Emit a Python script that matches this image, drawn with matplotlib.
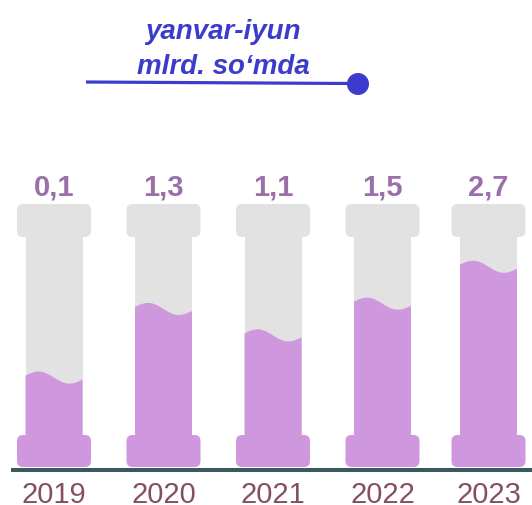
import numpy as np
import matplotlib
matplotlib.use("Agg")
import matplotlib.pyplot as plt
from matplotlib.patches import FancyBboxPatch, Rectangle, Polygon, Circle

# ---- data ----
years = ["2019", "2020", "2021", "2022", "2023"]
values = [0.1, 1.3, 1.1, 1.5, 2.7]
value_labels = ["0,1", "1,3", "1,1", "1,5", "2,7"]
fill_fraction = [0.35, 0.61, 0.51, 0.63, 0.77]   # liquid level in each tube
title_lines = ["yanvar-iyun", "mlrd. so\u2018mda"]

# ---- style ----
GREY = "#e2e2e2"
PURPLE = "#cf98de"
VAL_C = "#9a70a8"
YEAR_C = "#84505f"
BASE_C = "#3a5a5f"
BLUE = "#3c3ccc"
FONT = ["Liberation Sans", "DejaVu Sans"]

W, H = 532, 505
fig = plt.figure(figsize=(W / 100, H / 100), dpi=100)
ax = fig.add_axes([0, 0, 1, 1])
ax.set_xlim(0, W)
ax.set_ylim(H, 0)
ax.axis("off")

centers = [54, 163.5, 273, 382.5, 488.5]
cap_w, cap_top, cap_bot = 74, 204, 237
body_w = 57
base_top, base_bot = 435, 467
ground = 468
tube_h = ground - cap_top
r = 6

for cx, yr, lab, frac in zip(centers, years, value_labels, fill_fraction):
    # grey body
    ax.add_patch(Rectangle((cx - body_w / 2, cap_bot - 2), body_w, base_top - cap_bot + 4,
                           facecolor=GREY, edgecolor="none", zorder=2))
    # grey cap
    ax.add_patch(FancyBboxPatch((cx - cap_w / 2 + r, cap_top + r), cap_w - 2 * r, cap_bot - cap_top - 2 * r,
                                boxstyle=f"round,pad={r}", facecolor=GREY, edgecolor="none", zorder=3))
    # liquid with wavy top
    level = ground - frac * tube_h
    t = np.linspace(0, 1, 60)
    xs = cx - body_w / 2 + t * body_w
    ys = level - 5 * np.sin(2 * np.pi * t) + 4 * t
    pts = list(zip(xs, ys)) + [(cx + body_w / 2, base_top + 2), (cx - body_w / 2, base_top + 2)]
    ax.add_patch(Polygon(pts, closed=True, facecolor=PURPLE, edgecolor="none", zorder=4))
    # purple base
    ax.add_patch(FancyBboxPatch((cx - cap_w / 2 + r, base_top + r), cap_w - 2 * r, base_bot - base_top - 2 * r,
                                boxstyle=f"round,pad={r}", facecolor=PURPLE, edgecolor="none", zorder=5))
    # labels
    ax.text(cx, 195, lab, ha="center", va="baseline", fontsize=21, fontweight="bold",
            color=VAL_C, family=FONT, zorder=6)
    ax.text(cx, 503, yr, ha="center", va="baseline", fontsize=21, color=YEAR_C,
            family=FONT, zorder=6)

# ground line
ax.add_patch(Rectangle((11, ground), W - 11, 4, facecolor=BASE_C, edgecolor="none", zorder=6))

# title
ax.text(223, 39, title_lines[0], ha="center", va="baseline", fontsize=20, fontweight="bold",
        fontstyle="italic", color=BLUE, family=FONT)
ax.text(223.5, 74, title_lines[1], ha="center", va="baseline", fontsize=20, fontweight="bold",
        fontstyle="italic", color=BLUE, family=FONT)
ax.plot([86, 352], [82, 83.5], color=BLUE, lw=2.3, solid_capstyle="butt")
ax.add_patch(Circle((358, 84), 11, facecolor=BLUE, edgecolor="none"))

fig.savefig("out.png", dpi=100)
